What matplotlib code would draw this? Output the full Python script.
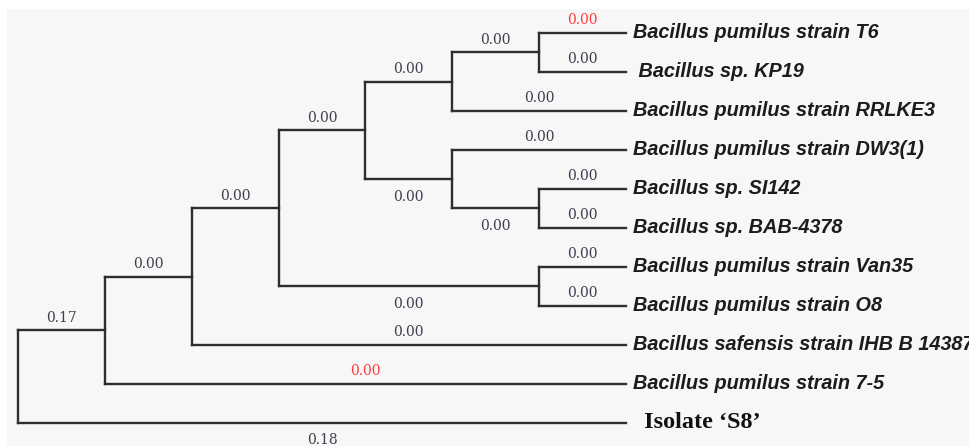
import matplotlib
matplotlib.use("Agg")
import matplotlib.pyplot as plt

# tree data: leaves in display order, clades as parent -> children
leaves = [
    "Bacillus pumilus strain T6",
    " Bacillus sp. KP19",
    "Bacillus pumilus strain RRLKE3",
    "Bacillus pumilus strain DW3(1)",
    "Bacillus sp. SI142",
    "Bacillus sp. BAB-4378",
    "Bacillus pumilus strain Van35",
    "Bacillus pumilus strain O8",
    "Bacillus safensis strain IHB B 14387",
    "Bacillus pumilus strain 7-5",
    "Isolate \u2018S8\u2019",
]

clades = {
    "root": ["I", leaves[10]],
    "I": ["H", leaves[9]],
    "H": ["F", leaves[8]],
    "F": ["C", "G"],
    "C": ["B", "D"],
    "B": ["A", leaves[2]],
    "A": [leaves[0], leaves[1]],
    "D": [leaves[3], "E"],
    "E": [leaves[4], leaves[5]],
    "G": [leaves[6], leaves[7]],
}

branch_labels = {
    "I": "0.17", "H": "0.00", "F": "0.00", "C": "0.00", "B": "0.00",
    "A": "0.00", "D": "0.00", "E": "0.00", "G": "0.00",
    leaves[0]: "0.00", leaves[1]: "0.00", leaves[2]: "0.00",
    leaves[3]: "0.00", leaves[4]: "0.00", leaves[5]: "0.00",
    leaves[6]: "0.00", leaves[7]: "0.00", leaves[8]: "0.00",
    leaves[9]: "0.00", leaves[10]: "0.18",
}
labels_below = ["D", "E", "G", leaves[10]]
labels_red = [leaves[0], leaves[9]]


def height(n):
    if n not in clades:
        return 0
    return 1 + max(height(c) for c in clades[n])


def ypos(n):
    if n not in clades:
        return leaves.index(n)
    ys = [ypos(c) for c in clades[n]]
    return (min(ys) + max(ys)) / 2


top = height("root")

fig = plt.figure(figsize=(9.69, 4.46), dpi=100)
fig.patch.set_facecolor("white")
ax = fig.add_axes([7 / 969, 0, 962 / 969, 437 / 446])
ax.set_facecolor("#f7f7f7")
for s in ax.spines.values():
    s.set_visible(False)
ax.set_xticks([])
ax.set_yticks([])
ax.set_xlim(-0.127, 10.95)
ax.set_ylim(10.59, -0.615)

lc = "#2e2e2e"
lw = 1.7


def draw(n):
    x = top - height(n)
    ys = [ypos(c) for c in clades[n]]
    ax.plot([x, x], [min(ys), max(ys)], color=lc, lw=lw, solid_capstyle="projecting")
    for c in clades[n]:
        xc = top - height(c)
        yc = ypos(c)
        ax.plot([x, xc], [yc, yc], color=lc, lw=lw, solid_capstyle="projecting")
        col = "#ff3b3b" if c in labels_red else "#3e3e4e"
        dy = -12.5 if c in labels_below else 9.0
        ax.annotate(branch_labels[c], ((x + xc) / 2, yc), xytext=(0, dy),
                    textcoords="offset points", ha="center", va="center",
                    fontsize=10, family="DejaVu Serif", color=col)
        if c in clades:
            draw(c)
        elif c == leaves[10]:
            ax.annotate(" " + c, (xc, yc), xytext=(9, 0), textcoords="offset points",
                        ha="left", va="center", fontsize=17.5, family="Liberation Serif",
                        weight="bold", color="#111111")
        else:
            ax.annotate(c, (xc, yc), xytext=(5, 0), textcoords="offset points",
                        ha="left", va="center", fontsize=14.3, family="Liberation Sans",
                        weight="bold", style="italic", color="#1c1c1c")


draw("root")

fig.savefig("out.png", dpi=100)
